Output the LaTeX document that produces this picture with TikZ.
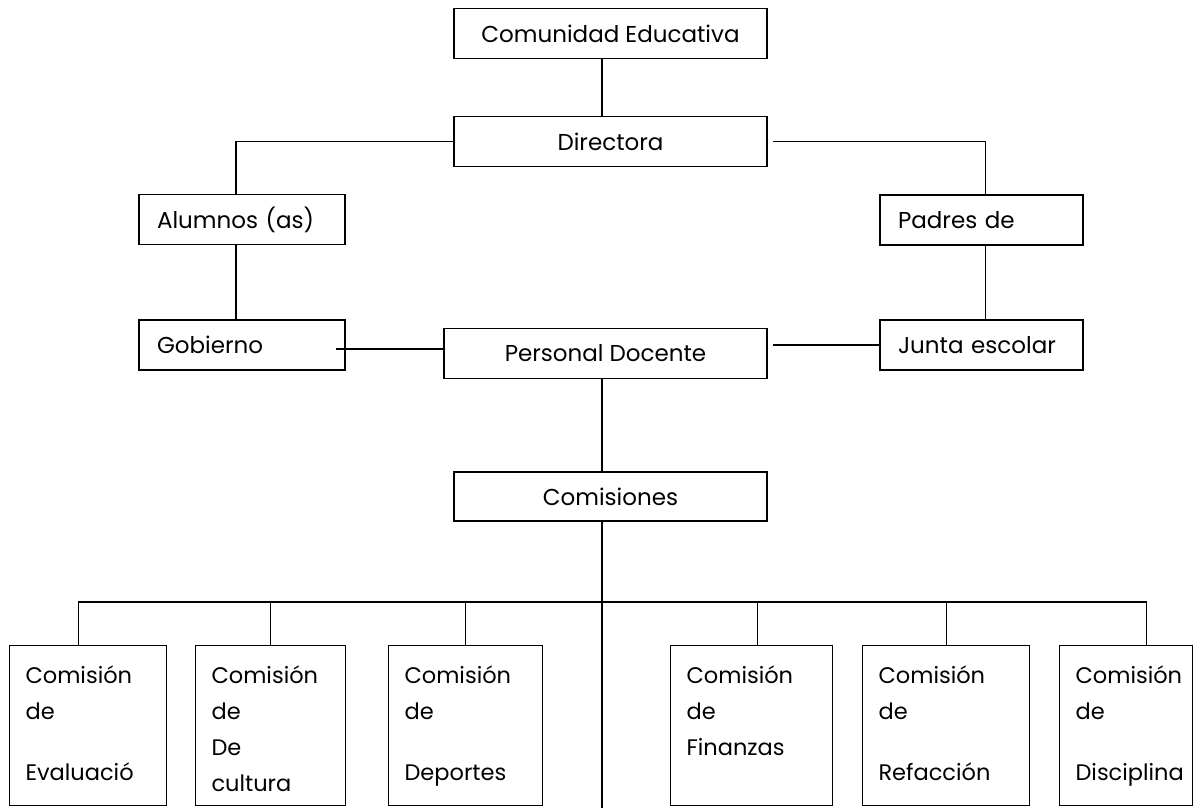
\documentclass[tikz,border=0pt]{standalone}
\usepackage{fontspec}
\setmainfont{Poppins}
\usetikzlibrary{positioning}

\tikzset{
    caja/.style={draw, line width=1.1pt, rectangle, inner sep=0pt,
                 minimum width=#1, minimum height=50pt,
                 font=\fontsize{23}{27}\selectfont},
    cajaizq/.style={draw, line width=1.1pt, rectangle, inner xsep=18pt, inner ysep=0pt,
                 text width=#1, align=left, minimum height=50pt,
                 font=\fontsize{23}{27}\selectfont},
    comision/.style={draw, line width=1.1pt, rectangle, anchor=north west,
                 inner xsep=16pt, inner ysep=0pt, text width=#1, align=left,
                 font=\fontsize{22.5}{36}\selectfont},
    linea/.style={line width=1.1pt}
}
\newcommand{\renglones}[1]{\parbox[c][160pt][t]{\linewidth}{\raggedright\rule{0pt}{38pt}#1}}

\begin{document}
\begin{tikzpicture}[x=1pt, y=-1pt]
    \useasboundingbox (0,0) rectangle (1203,808);

    \node[caja=313pt] (com) at (610.5,33.5) {Comunidad Educativa};
    \node[caja=313pt] (dir) at (610.5,141.5) {Directora};
    \node[cajaizq=170pt] (alu) at (242,219.5) {Alumnos (as)};
    \node[cajaizq=167pt] (pad) at (981.5,220) {Padres de};
    \node[cajaizq=170pt] (gob) at (242,345) {Gobierno};
    \node[caja=323pt] (doc) at (605.5,353.5) {Personal Docente};
    \node[cajaizq=167pt] (jun) at (981.5,345) {Junta escolar};
    \node[caja=313pt, minimum height=49pt] (cms) at (610.5,496.5) {Comisiones};

    %% comisiones
    \node[comision=125pt] (c1) at (9,645) {\renglones{Comisión\\de\\[25pt]Evaluació}};
    \node[comision=118pt] (c2) at (195,645) {\renglones{Comisión\\de\\De\\cultura}};
    \node[comision=122pt] (c3) at (388,645) {\renglones{Comisión\\de\\[25pt]Deportes}};
    \node[comision=130pt] (c4) at (670,645) {\renglones{Comisión\\de\\Finanzas}};
    \node[comision=135pt] (c5) at (862,645) {\renglones{Comisión\\de\\[25pt]Refacción}};
    \node[comision=101pt] (c6) at (1059,645) {\renglones{Comisión\\de\\[25pt]Disciplina}};

    \coordinate (eje) at (602,0);
    \coordinate (bus) at (602,602);
    \coordinate (pie) at (602,808);

    %% conexiones
    \draw[linea] (com.south -| eje) -- (dir.north -| eje);
    \draw[linea] (dir.west) -| ([xshift=-6pt]alu.north);
    \draw[linea] ([xshift=5pt]dir.east) -| ([xshift=4pt]pad.north);
    \draw[linea] ([xshift=-6pt]alu.south) -- ([xshift=-6pt]gob.north);
    \draw[linea] ([xshift=4pt]pad.south) -- ([xshift=4pt]jun.north);
    \draw[linea] ([xshift=-10pt,yshift=-4pt]gob.east) -- ([yshift=-4pt]gob.east -| doc.west);
    \draw[linea] ([xshift=5pt]doc.east |- jun.west) -- (jun.west);
    \draw[linea] (doc.south -| eje) -- (cms.north -| eje);
    \draw[linea] (cms.south -| eje) -- (pie);

    \draw[linea] ([xshift=-10pt]c1.north) |- (bus) -| ([xshift=20pt]c6.north);
    \draw[linea] (c2.north) -- (c2.north |- bus);
    \draw[linea] (c3.north) -- (c3.north |- bus);
    \draw[linea] ([xshift=6pt]c4.north) -- ([xshift=6pt]c4.north |- bus);
    \draw[linea] (c5.north) -- (c5.north |- bus);
\end{tikzpicture}
\end{document}
